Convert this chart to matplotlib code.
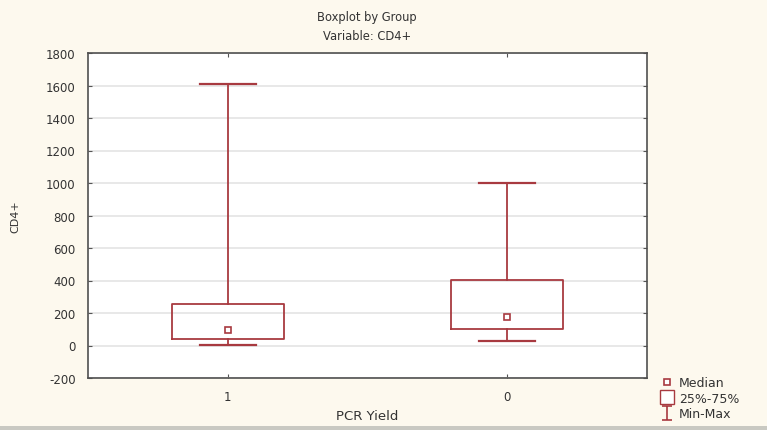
import matplotlib.pyplot as plt
import matplotlib.path as mpath
from matplotlib.lines import Line2D
from matplotlib.patches import Rectangle

plt.rcParams["axes.unicode_minus"] = False

groups = ["1", "0"]
q1 = [42, 100]
q3 = [258, 403]
medians = [94, 176]
mins = [5, 26]
maxs = [1607, 1000]
yticks = [-200, 0, 200, 400, 600, 800, 1000, 1200, 1400, 1600, 1800]

red = "#a83a40"
bg = "#fdf9ee"
txt = "#333333"

fig = plt.figure(figsize=(7.67, 4.31), dpi=100, facecolor=bg)
ax = fig.add_axes([88/767, 52/431, 559/767, 325/431])
ax.set_facecolor("white")

stats = []
for i in range(len(groups)):
	stats.append({"med": medians[i], "q1": q1[i], "q3": q3[i],
		"whislo": mins[i], "whishi": maxs[i], "label": groups[i]})

pos = [1, 2]
ax.bxp(stats, positions=pos, widths=0.4, capwidths=0.2, showfliers=False,
	boxprops=dict(color=red, linewidth=1.3),
	whiskerprops=dict(color=red, linewidth=1.3),
	capprops=dict(color=red, linewidth=1.6),
	medianprops=dict(linewidth=0))
ax.plot(pos, medians, linestyle="none", marker="s", markersize=5,
	markerfacecolor="white", markeredgecolor=red, markeredgewidth=1.2)

ax.set_xlim(0.5, 2.5)
ax.set_ylim(-200, 1800)
ax.set_yticks(yticks)
ax.set_xticks(pos)
ax.set_xticklabels(groups)
ax.yaxis.grid(True, color="#e4e4e4", linewidth=1.2)
ax.set_axisbelow(True)
ax.tick_params(direction="in", length=3, width=0.8, colors="#555555",
	labelcolor=txt, labelsize=8.5, top=True, right=True, pad=9)
for s in ax.spines.values():
	s.set_color("#505050")
	s.set_linewidth(1.2)

ax.set_xlabel("PCR Yield", fontsize=9.5, color=txt, labelpad=4)
ax.set_ylabel("CD4+", fontsize=8, color=txt, labelpad=18)
fig.text(367/767, 1 - 18/431, "Boxplot by Group", ha="center", va="center", fontsize=8.3, color=txt)
fig.text(367/767, 1 - 37/431, "Variable: CD4+", ha="center", va="center", fontsize=8.3, color=txt)

ipath = mpath.Path([(-0.7, 1), (0.7, 1), (0, 1), (0, -1), (-0.7, -1), (0.7, -1)],
	[1, 2, 1, 2, 1, 2])
handles = [
	Line2D([], [], linestyle="none", marker="s", markersize=4, markerfacecolor="white",
		markeredgecolor=red, markeredgewidth=1.2),
	Line2D([], [], linestyle="none", marker="s", markersize=10, markerfacecolor="white",
		markeredgecolor=red, markeredgewidth=1.0),
	Line2D([], [], linestyle="none", marker=ipath, markersize=10, markerfacecolor="none",
		markeredgecolor=red, markeredgewidth=1.2),
]
leg = fig.legend(handles, ["Median", "25%-75%", "Min-Max"], loc="upper left",
	bbox_to_anchor=(654/767, 1 - 371/431), frameon=False, fontsize=9,
	handlelength=1.0, handleheight=0.9, handletextpad=0.5, labelspacing=0.2, borderpad=0)
for t in leg.get_texts():
	t.set_color(txt)

fig.patches.append(Rectangle((0, 0), 1, 4/431, transform=fig.transFigure,
	facecolor="#c9c9c2", edgecolor="none"))

fig.savefig("out.png", dpi=100, facecolor=bg)
